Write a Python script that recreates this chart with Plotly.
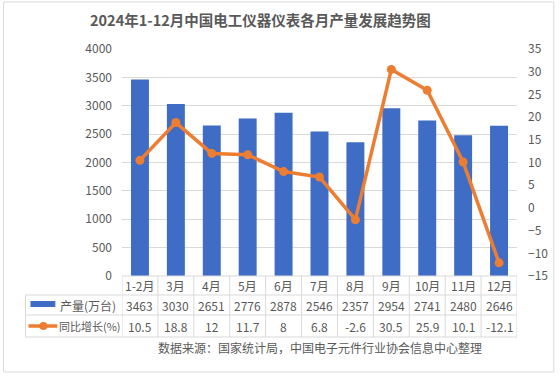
import plotly.graph_objects as go

categories = ["1-2月", "3月", "4月", "5月", "6月", "7月", "8月", "9月", "10月", "11月", "12月"]
output = [3463, 3030, 2651, 2776, 2878, 2546, 2357, 2954, 2741, 2480, 2646]
growth = [10.5, 18.8, 12, 11.7, 8, 6.8, -2.6, 30.5, 25.9, 10.1, -12.1]
growth_labels = ["10.5", "18.8", "12", "11.7", "8", "6.8", "-2.6", "30.5", "25.9", "10.1", "-12.1"]
series_names = ["产量(万台)", "同比增长(%)"]
title_text = "2024年1-12月中国电工仪器仪表各月产量发展趋势图"
source_text = "数据来源：国家统计局，中国电子元件行业协会信息中心整理"

W, H = 560, 376
L, R, T, B = 122, 519, 49, 276
FONT = "Noto Sans CJK SC, sans-serif"
GRAY = "#595959"
GRID = "#D9D9D9"
BLUE = "#3F6CC4"
ORANGE = "#ED7D31"


def px(x):
    return (x - L) / (R - L)


def py(y):
    return (B - y) / (B - T)


x_idx = list(range(len(categories)))

fig = go.Figure()
fig.add_trace(go.Bar(x=x_idx, y=output, name=series_names[0], marker=dict(color=BLUE, line=dict(width=0)), width=0.5))
fig.add_trace(go.Scatter(x=x_idx, y=growth, name=series_names[1], yaxis="y2", mode="lines+markers",
                         line=dict(color=ORANGE, width=3.5), marker=dict(color=ORANGE, size=9)))

shapes = []
annotations = []

# chart border
shapes.append(dict(type="rect", xref="paper", yref="paper", x0=px(3), x1=px(556), y0=py(372), y1=py(2),
                   line=dict(color=GRID, width=1), layer="below"))

# table lines
row_y = [276, 295, 315, 337]
n = len(categories)
for i in range(n + 1):
    shapes.append(dict(type="line", xref="x", yref="paper", x0=i - 0.5, x1=i - 0.5, y0=py(276), y1=py(337),
                       line=dict(color=GRID, width=1)))
shapes.append(dict(type="line", xref="paper", yref="paper", x0=px(25), x1=px(25), y0=py(295), y1=py(337),
                   line=dict(color=GRID, width=1)))
shapes.append(dict(type="line", xref="paper", yref="paper", x0=0, x1=1, y0=py(276), y1=py(276),
                   line=dict(color=GRID, width=1)))
for yy in row_y[1:]:
    shapes.append(dict(type="line", xref="paper", yref="paper", x0=px(25), x1=1, y0=py(yy), y1=py(yy),
                       line=dict(color=GRID, width=1)))

# legend keys in table
shapes.append(dict(type="rect", xref="paper", yref="paper", x0=px(30), x1=px(55), y0=py(307), y1=py(301),
                   fillcolor=BLUE, line=dict(width=0)))
shapes.append(dict(type="line", xref="paper", yref="paper", x0=px(28), x1=px(57), y0=py(326), y1=py(326),
                   line=dict(color=ORANGE, width=3.5)))
shapes.append(dict(type="circle", xref="paper", yref="paper", x0=px(39), x1=px(47), y0=py(330), y1=py(322),
                   fillcolor=ORANGE, line=dict(width=0)))

tf = dict(family=FONT, size=12, color=GRAY)


def note(x, y, text, xref="paper", xanchor="center", font=tf):
    annotations.append(dict(x=x, y=y, xref=xref, yref="paper", text=text, showarrow=False,
                            xanchor=xanchor, yanchor="middle", font=font))


for i, c in enumerate(categories):
    note(i, py(285.5), c, xref="x")
    note(i, py(305), str(output[i]), xref="x")
    note(i, py(326), growth_labels[i], xref="x")

note(px(58), py(305), series_names[0], xanchor="left")
note(px(57), py(326), series_names[1], xanchor="left", font=dict(family=FONT, size=11, color=GRAY))
note(px(321), py(347), source_text)
note(px(261), py(20), "<b>" + title_text + "</b>", font=dict(family=FONT, size=14.5, color=GRAY))

fig.update_layout(
    width=W, height=H,
    margin=dict(l=L, r=W - R, t=T, b=H - B, pad=0),
    paper_bgcolor="white", plot_bgcolor="white",
    showlegend=False,
    bargap=0.5,
    xaxis=dict(range=[-0.5, n - 0.5], showticklabels=False, showgrid=False, zeroline=False, ticks=""),
    yaxis=dict(range=[0, 4000], dtick=500, showgrid=True, gridcolor=GRID, gridwidth=1, zeroline=False,
               tickfont=tf, ticks="", ticklen=0, ticklabelstandoff=9),
    yaxis2=dict(range=[-15, 35], dtick=5, overlaying="y", side="right", showgrid=False, zeroline=False,
                tickfont=tf, ticks="", ticklabelstandoff=10),
    shapes=shapes,
    annotations=annotations,
)

fig.write_html("out.html", config={"displayModeBar": False},
               post_script="document.body.style.margin='0';")
